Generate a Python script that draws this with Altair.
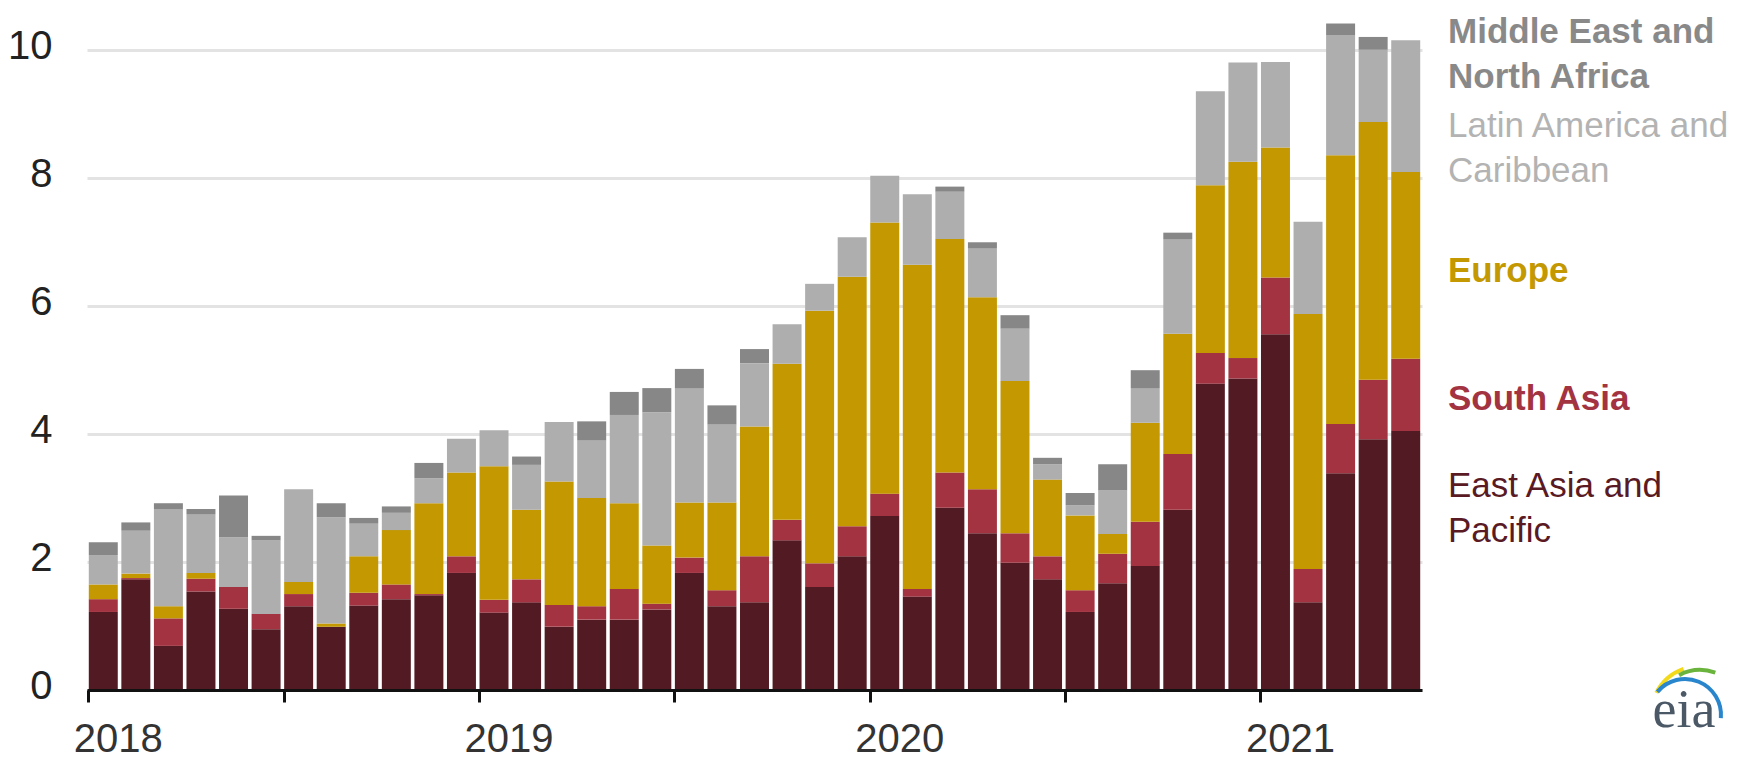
import altair as alt
import pandas as pd

# ---- data ----
months = [f"{y}-{m:02d}" for y in (2018, 2019, 2020) for m in range(1, 13)] + \
         [f"2021-{m:02d}" for m in range(1, 6)]

east_asia = [1.22, 1.73, 0.69, 1.54, 1.27, 0.95, 1.31, 0.99, 1.32, 1.42, 1.48, 1.83,
             1.21, 1.37, 0.99, 1.10, 1.10, 1.26, 1.83, 1.31, 1.37, 2.34, 1.61, 2.09,
             2.72, 1.46, 2.85, 2.45, 1.99, 1.73, 1.22, 1.67, 1.94, 2.82, 4.79, 4.87,
             5.56, 1.37, 3.39, 3.92, 4.05]
south_asia = [0.20, 0.02, 0.43, 0.20, 0.34, 0.24, 0.19, 0.00, 0.20, 0.23, 0.02, 0.26,
              0.20, 0.36, 0.34, 0.21, 0.48, 0.09, 0.24, 0.25, 0.72, 0.32, 0.37, 0.47,
              0.35, 0.12, 0.55, 0.69, 0.46, 0.36, 0.34, 0.46, 0.69, 0.87, 0.48, 0.32,
              0.89, 0.52, 0.77, 0.93, 1.13]
europe = [0.23, 0.07, 0.19, 0.09, 0.00, 0.00, 0.19, 0.05, 0.57, 0.85, 1.42, 1.31,
          2.09, 1.09, 1.93, 1.69, 1.34, 0.91, 0.86, 1.37, 2.03, 2.44, 3.95, 3.90,
          4.24, 5.07, 3.65, 3.00, 2.38, 1.20, 1.17, 0.31, 1.55, 1.88, 2.62, 3.07,
          2.03, 3.99, 4.20, 4.03, 2.92]
latin_america = [0.46, 0.67, 1.51, 0.92, 0.78, 1.15, 1.45, 1.66, 0.51, 0.27, 0.39, 0.53,
                 0.56, 0.70, 0.93, 0.90, 1.38, 2.08, 1.79, 1.22, 0.99, 0.62, 0.42, 0.62,
                 0.73, 1.10, 0.74, 0.76, 0.82, 0.24, 0.16, 0.68, 0.54, 1.48, 1.47, 1.55,
                 1.34, 1.44, 1.88, 1.13, 2.06]
middle_east = [0.20, 0.13, 0.10, 0.08, 0.65, 0.07, 0.00, 0.22, 0.09, 0.10, 0.24, 0.00,
               0.00, 0.13, 0.00, 0.30, 0.36, 0.38, 0.30, 0.30, 0.22, 0.00, 0.00, 0.00,
               0.00, 0.00, 0.08, 0.10, 0.21, 0.10, 0.19, 0.41, 0.28, 0.10, 0.00, 0.00,
               0.00, 0.00, 0.18, 0.20, 0.00]

regions = ["East Asia and Pacific", "South Asia", "Europe",
           "Latin America and Caribbean", "Middle East and North Africa"]
series = [east_asia, south_asia, europe, latin_america, middle_east]
colors = ["#521a22", "#a33341", "#c39800", "#aeaeae", "#878787"]

rows = []
for k, (name, vals) in enumerate(zip(regions, series)):
    for m, v in zip(months, vals):
        rows.append({"month": m, "region": name, "value": v, "ord": k})
df = pd.DataFrame(rows)

year_ticks = [m for m in months if m.endswith("-01") or m.endswith("-07")]

FONT = "Liberation Sans"

bars = alt.Chart(df).mark_bar().encode(
    x=alt.X("month:O", sort=months,
            scale=alt.Scale(paddingInner=0.11, paddingOuter=0.055),
            axis=alt.Axis(title=None, values=year_ticks, bandPosition=0,
                          labelExpr="slice(datum.value, 5) == '01' ? slice(datum.value, 0, 4) : ''",
                          labelAngle=0, labelAlign="center", labelBaseline="top", labelOffset=15,
                          labelFontSize=40, labelFont=FONT, labelColor="#333333",
                          labelPadding=17, tickColor="#111111", tickWidth=3, tickSize=12,
                          domainColor="#111111", domainWidth=3, grid=False, zindex=1)),
    y=alt.Y("value:Q", stack="zero",
            scale=alt.Scale(domain=[0, 10.6], nice=False),
            axis=alt.Axis(title=None, values=[0, 2, 4, 6, 8, 10], ticks=False, domain=False,
                          labelFontSize=40, labelFont=FONT, labelColor="#222222",
                          labelPadding=35, labelOffset=-4,
                          gridColor="#e3e3e3", gridWidth=3)),
    color=alt.Color("region:N", scale=alt.Scale(domain=regions, range=colors), legend=None),
    order=alt.Order("ord:Q", sort="ascending"),
)

# ---- right-hand labels ----
label_specs = [
    (["Middle East and", "North Africa"], "#898989", "bold", 31),
    (["Latin America and", "Caribbean"], "#b3b3b3", "normal", 125),
    (["Europe"], "#c39800", "bold", 270),
    (["South Asia"], "#a33341", "bold", 398),
    (["East Asia and", "Pacific"], "#5a1a24", "normal", 485),
]
one = alt.Data(values=[{"a": 1}])
labels = []
for lines, col, wt, yy in label_specs:
    labels.append(
        alt.Chart(one).mark_text(text=lines, align="left", baseline="alphabetic",
                                 fontSize=35, font=FONT, fontWeight=wt, color=col,
                                 lineHeight=45)
        .encode(x=alt.value(1361), y=alt.value(yy))
    )

# ---- eia logo ----
logo_text = alt.Chart(one).mark_text(text="eia", align="center", baseline="alphabetic",
                                     fontSize=54, font="Liberation Serif", color="#4b5866") \
    .encode(x=alt.value(1597), y=alt.value(715))
arc_yellow = alt.Chart(one).mark_arc(theta=5.18, theta2=5.94, radius=51, radius2=47,
                                     color="#f2d91c").encode(x=alt.value(1613), y=alt.value(703))
arc_green = alt.Chart(one).mark_arc(theta=5.80, theta2=6.63, radius=47, radius2=43,
                                    color="#6ab43e").encode(x=alt.value(1613), y=alt.value(703))
arc_blue = alt.Chart(one).mark_arc(theta=5.41, theta2=7.94, radius=38, radius2=34,
                                   color="#2a86cc").encode(x=alt.value(1598), y=alt.value(703))

chart = alt.layer(bars, *labels, logo_text, arc_yellow, arc_green, arc_blue).properties(
    width=1335, height=678,
    autosize=alt.AutoSizeParams(type="none"),
    padding={"left": 79, "top": 4, "right": 332, "bottom": 70},
).configure(background="white").configure_view(stroke=None, strokeWidth=0)

chart.save("out.html", embed_options={"renderer": "svg", "actions": False})
